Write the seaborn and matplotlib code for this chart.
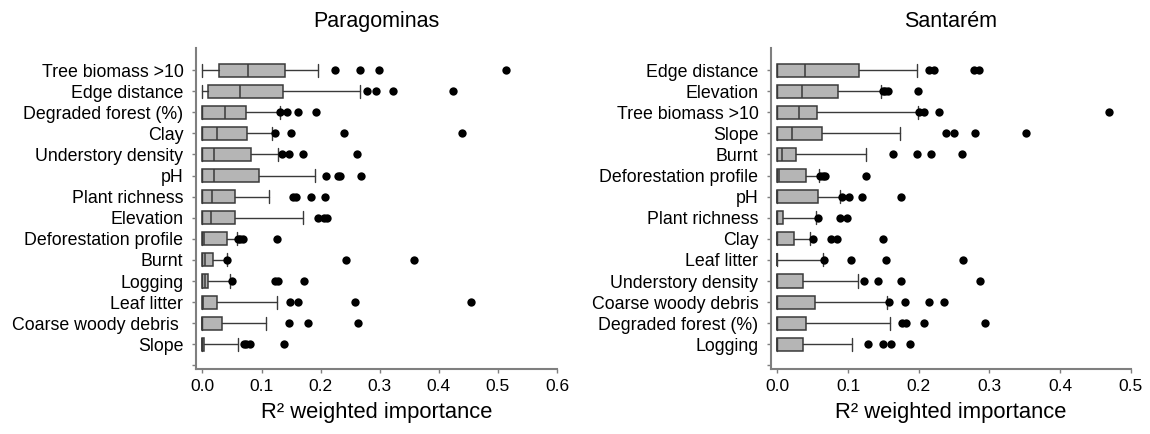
import numpy as np
import pandas as pd
import matplotlib
matplotlib.use("Agg")
import matplotlib.pyplot as plt
import seaborn as sns

# ---------------- data: Paragominas ----------------
para_labels = ["Tree biomass >10", "Edge distance", "Degraded forest (%)", "Clay",
               "Understory density", "pH", "Plant richness", "Elevation",
               "Deforestation profile", "Burnt", "Logging", "Leaf litter",
               "Coarse woody debris ", "Slope"]
para_whislo = [0.0, 0.0, 0.0, 0.0, 0.0, 0.0, 0.0, 0.0, 0.0, 0.0, 0.0, 0.0, 0.0, 0.0]
para_q1 = [0.028, 0.0095, 0.0, 0.0, 0.0, 0.0, 0.0, 0.0, 0.0, 0.0, 0.0, 0.0, 0.0, 0.0]
para_med = [0.077, 0.064, 0.038, 0.025, 0.019, 0.019, 0.016, 0.015, 0.002, 0.004, 0.004, 0.001, 0.0, 0.0]
para_q3 = [0.140, 0.136, 0.074, 0.076, 0.083, 0.095, 0.055, 0.055, 0.041, 0.018, 0.0095, 0.025, 0.033, 0.002]
para_whishi = [0.196, 0.266, 0.131, 0.118, 0.128, 0.191, 0.112, 0.170, 0.059, 0.041, 0.046, 0.126, 0.108, 0.060]
para_out = [
    [0.224, 0.266, 0.299, 0.513],
    [0.279, 0.293, 0.323, 0.424],
    [0.132, 0.143, 0.161, 0.193],
    [0.122, 0.150, 0.240, 0.440],
    [0.135, 0.146, 0.170, 0.262],
    [0.209, 0.229, 0.232, 0.269],
    [0.153, 0.158, 0.184, 0.207],
    [0.195, 0.206, 0.211],
    [0.060, 0.064, 0.069, 0.126],
    [0.042, 0.243, 0.358],
    [0.050, 0.123, 0.128, 0.172],
    [0.149, 0.162, 0.259, 0.455],
    [0.146, 0.178, 0.264],
    [0.070, 0.074, 0.080, 0.138],
]

# ---------------- data: Santarém ----------------
sant_labels = ["Edge distance", "Elevation", "Tree biomass >10", "Slope", "Burnt",
               "Deforestation profile", "pH", "Plant richness", "Clay", "Leaf litter",
               "Understory density", "Coarse woody debris", "Degraded forest (%)", "Logging"]
sant_whislo = [0.0] * 14
sant_q1 = [0.0] * 14
sant_med = [0.039, 0.035, 0.031, 0.021, 0.006, 0.002, 0.0, 0.0, 0.0, 0.0, 0.0, 0.0, 0.0, 0.0]
sant_q3 = [0.115, 0.086, 0.056, 0.063, 0.026, 0.041, 0.058, 0.008, 0.023, 0.0, 0.037, 0.053, 0.041, 0.036]
sant_whishi = [0.197, 0.146, 0.199, 0.174, 0.125, 0.059, 0.089, 0.054, 0.046, 0.064, 0.114, 0.155, 0.160, 0.106]
sant_out = [
    [0.215, 0.221, 0.278, 0.285],
    [0.149, 0.152, 0.156, 0.199],
    [0.201, 0.207, 0.229, 0.469],
    [0.238, 0.250, 0.280, 0.352],
    [0.163, 0.197, 0.218, 0.261],
    [0.060, 0.064, 0.067, 0.126],
    [0.092, 0.102, 0.120, 0.175],
    [0.058, 0.088, 0.099],
    [0.050, 0.076, 0.085, 0.149],
    [0.066, 0.104, 0.153, 0.262],
    [0.122, 0.142, 0.175, 0.287],
    [0.158, 0.181, 0.214, 0.235],
    [0.177, 0.182, 0.207, 0.293],
    [0.128, 0.150, 0.161, 0.187],
]

panels = [
    ("Paragominas", para_labels, para_whislo, para_q1, para_med, para_q3, para_whishi, para_out, 0.6, [0, 0.1, 0.2, 0.3, 0.4, 0.5, 0.6]),
    ("Santarém", sant_labels, sant_whislo, sant_q1, sant_med, sant_q3, sant_whishi, sant_out, 0.5, [0, 0.1, 0.2, 0.3, 0.4, 0.5]),
]

sns.set_theme(style="ticks")
plt.rcParams['font.family'] = ['Liberation Sans', 'DejaVu Sans']

fig = plt.figure(figsize=(11.5, 4.34), dpi=100)
ax_rects = [[0.1704, 0.1498, 0.3139, 0.7392], [0.6704, 0.1498, 0.3130, 0.7392]]

box_edge = "#3a3a3a"
spine_col = "#7f7f7f"

for rect, (title, labels, wlo, q1, med, q3, whi, outs, xmax, xticks) in zip(ax_rects, panels):
    ax = fig.add_axes(rect)
    n = len(labels)
    rows = []
    for lab, vals in zip(labels, outs):
        for v in vals:
            rows.append({"variable": lab, "value": v})
    df = pd.DataFrame(rows)
    sns.stripplot(data=df, x="value", y="variable", order=labels, jitter=False,
                  color="black", size=6, linewidth=0, ax=ax, zorder=3)
    stats = [dict(label=labels[i], whislo=wlo[i], q1=q1[i], med=med[i], q3=q3[i],
                  whishi=whi[i], fliers=[]) for i in range(n)]
    ax.bxp(stats, positions=list(range(n)), widths=0.62, orientation='horizontal',
           patch_artist=True, showfliers=False, manage_ticks=False,
           boxprops=dict(facecolor="#b5b5b5", edgecolor=box_edge, linewidth=1.1),
           medianprops=dict(color=box_edge, linewidth=1.1),
           whiskerprops=dict(color=box_edge, linewidth=1.0),
           capprops=dict(color=box_edge, linewidth=1.0),
           capwidths=0.62)
    ax.set_yticks(list(range(n + 1)))
    ax.set_yticklabels(labels + [""], fontsize=12.8, color="black")
    xmin = -0.011 if xmax == 0.6 else -0.009
    ax.set_xlim(xmin, xmax)
    ax.set_ylim(14.17, -1.04)
    ax.set_xticks(xticks)
    ax.set_xticklabels([f"{t:.1f}" for t in xticks], fontsize=12.5, color="black")
    ax.set_xlabel("R² weighted importance", fontsize=15.8, color="black", labelpad=6)
    ax.set_ylabel("")
    ax.set_title(title, fontsize=15.5, color="black", pad=15)
    sns.despine(ax=ax)
    for s in ["left", "bottom"]:
        ax.spines[s].set_color(spine_col)
        ax.spines[s].set_linewidth(1.5)
    ax.tick_params(axis="both", colors=spine_col, labelcolor="black", length=3, width=1, pad=4)
    ax.tick_params(axis="y", pad=6)

fig.savefig("out.png", dpi=100)
